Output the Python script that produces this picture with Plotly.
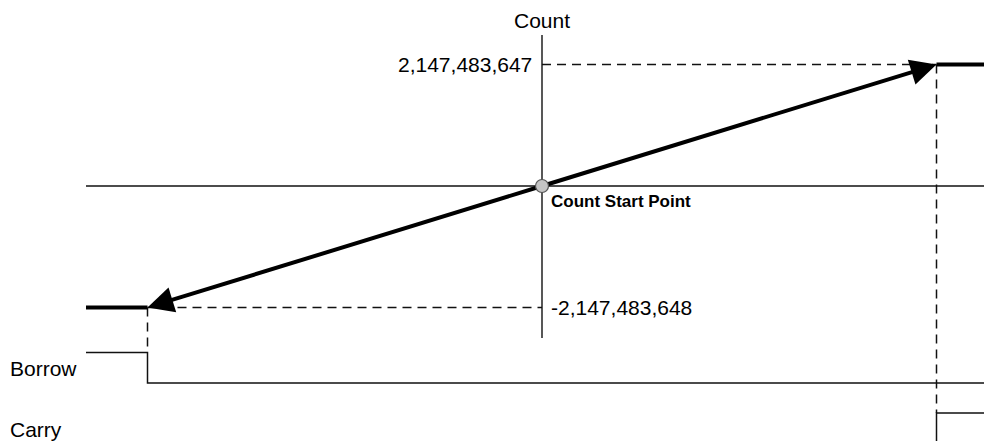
import plotly.graph_objects as go

W, H = 992, 441
OFF = 8  # the page body margin shifts the figure by this many pixels
FW, FH = W - OFF, H - OFF

# ---------------- data ----------------
event_names = ["Underflow", "Count Start Point", "Overflow"]
event_time = [-1, 0, 1]                     # underflow, start, overflow
count_values = [-2147483648, 0, 2147483647]  # count at each event
count_labels = ["-2,147,483,648", "2,147,483,647"]
borrow_levels = [1, 0]   # before / after underflow
carry_levels = [0, 1]    # before / after overflow
signal_names = ["Borrow", "Carry"]
axis_title = "Count"

# ---------------- layout helpers (page pixel geometry) ----------------
X0, X_PER_T = 542.0, 394.5
Y0, Y_PER_C = 186.0, 121.5 / 2147483648.0


def t_px(px):
    return (px - X0) / X_PER_T


def c_px(py):
    return (Y0 - py) / Y_PER_C


def paper_x(px):
    return (px - OFF) / FW


def paper_y(py):
    return 1 - (py - OFF) / FH


def sig_axis(p0, p1, lo, hi):
    """domain for an axis whose level 0 sits at page pixel p0 and level 1 at p1."""
    unit = p0 - p1
    top = p1 - (hi - 1) * unit
    bottom = p0 + (0 - lo) * unit
    return [max(0.0, paper_y(bottom)), min(1.0, paper_y(top))]


t_under, t_start, t_over = event_time
c_min, c_zero, c_max = count_values
t_left, t_right = t_px(86), t_px(W)

FONT = "Liberation Sans, Arial, sans-serif"
DASH = "9px,6px"
fig = go.Figure()


def line(x, y, yaxis="y", width=1.0, color="#000", dash="solid"):
    fig.add_trace(go.Scatter(x=x, y=y, yaxis=yaxis, mode="lines",
                             line=dict(color=color, width=width, dash=dash),
                             hoverinfo="skip", showlegend=False))


# axes of the diagram
line([t_left, t_right], [c_zero, c_zero], width=1.4, color="#111")
line([t_start, t_start], [c_px(35), c_px(338)], width=1.4, color="#111")

# dashed guides
line([t_start, t_over], [c_max, c_max], color="#111", width=1.4, dash=DASH)
line([t_under, t_start], [c_min, c_min], color="#111", width=1.4, dash=DASH)
line([t_over, t_over], [c_max, c_px(413)], color="#111", width=1.5, dash=DASH)
line([t_under, t_under], [c_min, c_px(352.5)], color="#111", width=1.5, dash=DASH)

# saturated thick levels
line([t_over, t_right], [c_max, c_max], width=4)
line([t_left, t_under], [c_min, c_min], width=4)

# Borrow signal (yaxis2)
line([t_left, t_under, t_under, t_right],
     [borrow_levels[0], borrow_levels[0], borrow_levels[1], borrow_levels[1]],
     yaxis="y2", color="#111", width=1.5)
# Carry signal (yaxis3)
line([t_left, t_over, t_over, t_right],
     [carry_levels[0], carry_levels[0], carry_levels[1], carry_levels[1]],
     yaxis="y3", color="#111", width=1.5)

# counting ramps: body as a trace, head as a short annotation arrow
HEAD_FRAC = 0.06
annotations = []
for t_end, c_end in [(t_over, c_max), (t_under, c_min)]:
    t_tail = t_start + (1 - HEAD_FRAC) * (t_end - t_start)
    c_tail = c_zero + (1 - HEAD_FRAC) * (c_end - c_zero)
    line([t_start, t_tail], [c_zero, c_tail], width=4)
    annotations.append(dict(x=t_end, y=c_end, xref="x", yref="y",
                            ax=t_tail, ay=c_tail, axref="x", ayref="y",
                            text="", showarrow=True, arrowhead=2,
                            arrowsize=1.3, arrowwidth=4, arrowcolor="#000",
                            standoff=0, startstandoff=0))

annotations += [
    dict(x=t_start, y=paper_y(20), xref="x", yref="paper", text=axis_title,
         showarrow=False, xanchor="center", yanchor="middle",
         font=dict(family=FONT, size=21, color="#000")),
    dict(x=t_start, y=c_max, xref="x", yref="y", text=count_labels[1],
         showarrow=False, xanchor="right", yanchor="middle", xshift=-8,
         font=dict(family=FONT, size=21, color="#000")),
    dict(x=t_start, y=c_min, xref="x", yref="y", text=count_labels[0],
         showarrow=False, xanchor="left", yanchor="middle", xshift=7,
         font=dict(family=FONT, size=21, color="#000")),
    dict(x=t_start, y=c_zero, xref="x", yref="y",
         text="<b>" + event_names[1] + "</b>",
         showarrow=False, xanchor="left", yanchor="middle", xshift=7,
         yshift=-15, font=dict(family=FONT, size=17, color="#000")),
    dict(x=paper_x(8), y=paper_y(368), xref="paper", yref="paper",
         text=signal_names[0], showarrow=False, xanchor="left",
         yanchor="middle", font=dict(family=FONT, size=21, color="#000")),
    dict(x=paper_x(8), y=paper_y(429), xref="paper", yref="paper",
         text=signal_names[1], showarrow=False, xanchor="left",
         yanchor="middle", font=dict(family=FONT, size=21, color="#000")),
]

# count start point (drawn last so it sits above the ramp lines)
fig.add_trace(go.Scatter(x=[t_start], y=[c_zero], mode="markers",
                         marker=dict(size=13, color="#c4c4c4",
                                     line=dict(color="#555", width=1.2)),
                         hoverinfo="skip", showlegend=False))

hidden = dict(visible=False, showgrid=False, zeroline=False, fixedrange=True)
fig.update_layout(
    width=FW, height=FH,
    margin=dict(l=0, r=0, t=0, b=0, pad=0),
    paper_bgcolor="white", plot_bgcolor="rgba(0,0,0,0)",
    xaxis=dict(range=[t_px(OFF), t_px(W)], domain=[0, 1], **hidden),
    yaxis=dict(range=[c_px(H), c_px(OFF)], domain=[0, 1], **hidden),
    yaxis2=dict(range=[-0.3, 1.3], domain=sig_axis(383, 352.5, -0.3, 1.3),
                anchor="x", **hidden),
    yaxis3=dict(range=[(444 - H) / 31.0, 1.3],
                domain=sig_axis(444, 413, (444 - H) / 31.0, 1.3),
                anchor="x", **hidden),
    annotations=annotations,
    showlegend=False,
)

fig.write_html("out.html")
